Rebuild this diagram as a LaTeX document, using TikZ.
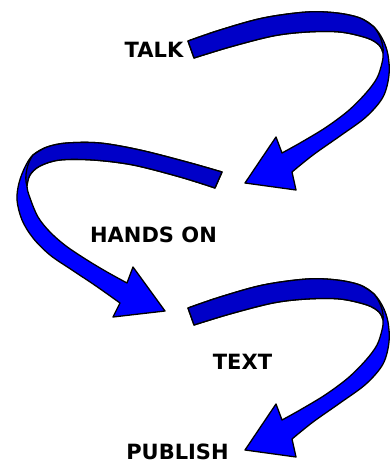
\documentclass[tikz,border=0pt]{standalone}
\usepackage{fontspec}
\setmainfont{DejaVu Sans}
\begin{document}
\begin{tikzpicture}[x=1pt,y=-1pt,
  light/.style={fill={rgb,255:red,0;green,0;blue,255},draw=black,line width=1.3pt,line join=round},
  dark/.style={fill={rgb,255:red,0;green,0;blue,200},draw=black,line width=1.3pt,line join=round},
  lbl/.style={inner sep=0pt,font=\bfseries\fontsize{21}{22}\selectfont}]
\useasboundingbox (0,0) rectangle (390,465);
% labels
\node[lbl] (talk) at (154,49.5) {TALK};
\node[lbl] (hands) at (153.5,235) {HANDS ON};
\node[lbl] (text) at (242.5,361.5) {TEXT};
\node[lbl] (publish) at (177.5,452) {PUBLISH};
% arrow 1 and arrow 3 (same shape)
\foreach \dy in {0,267}{
\begin{scope}[yshift=-\dy pt]
\path[light] plot[smooth,tension=0.55] coordinates {(188,41) (220,30) (263,18) (307,12) (337,13) (360,18) (374,27) (383,40) (388,55) (389,75) (383,97) (366,117) (340,136) (313,155) (292,172)}
  -- (296,190) -- (245,183) -- (276,137)
  -- plot[smooth,tension=0.55] coordinates {(282,153) (300,143) (325,128) (348,111) (366,93) (377,78) (382,63) (383,53) (379,45) (367,38) (340,32) (307,32) (273,36) (230,47) (194,58)}
  -- cycle;
\path[dark] plot[smooth,tension=0.55] coordinates {(188,41) (220,30) (263,18) (307,12) (337,13) (360,18) (374,27)}
  .. controls (380,34) and (384,45) .. (383,53)
  -- plot[smooth,tension=0.55] coordinates {(383,53) (379,45) (367,38) (340,32) (307,32) (273,36) (230,47) (194,58)}
  -- cycle;
\end{scope}}
% arrow 2
\path[light] plot[smooth,tension=0.55] coordinates {(222,172) (187,162) (140,150) (100,143) (67,143) (47,147) (33,155) (25,167) (19,183) (17,200) (22,220) (33,238) (50,255) (72,270) (96,286) (120,303)}
  -- (113,317) -- (165,311) -- (133,267)
  -- plot[smooth,tension=0.55] coordinates {(127,283) (107,272) (87,260) (66,246) (50,232) (38,217) (30,198) (27,186) (30,175) (40,166) (60,160) (93,160) (133,165) (180,177) (215,188)}
  -- cycle;
\path[dark] plot[smooth,tension=0.55] coordinates {(222,172) (187,162) (140,150) (100,143) (67,143) (47,147) (33,155)}
  .. controls (27,163) and (24,177) .. (27,186)
  -- plot[smooth,tension=0.55] coordinates {(27,186) (30,175) (40,166) (60,160) (93,160) (133,165) (180,177) (215,188)}
  -- cycle;
\end{tikzpicture}
\end{document}
